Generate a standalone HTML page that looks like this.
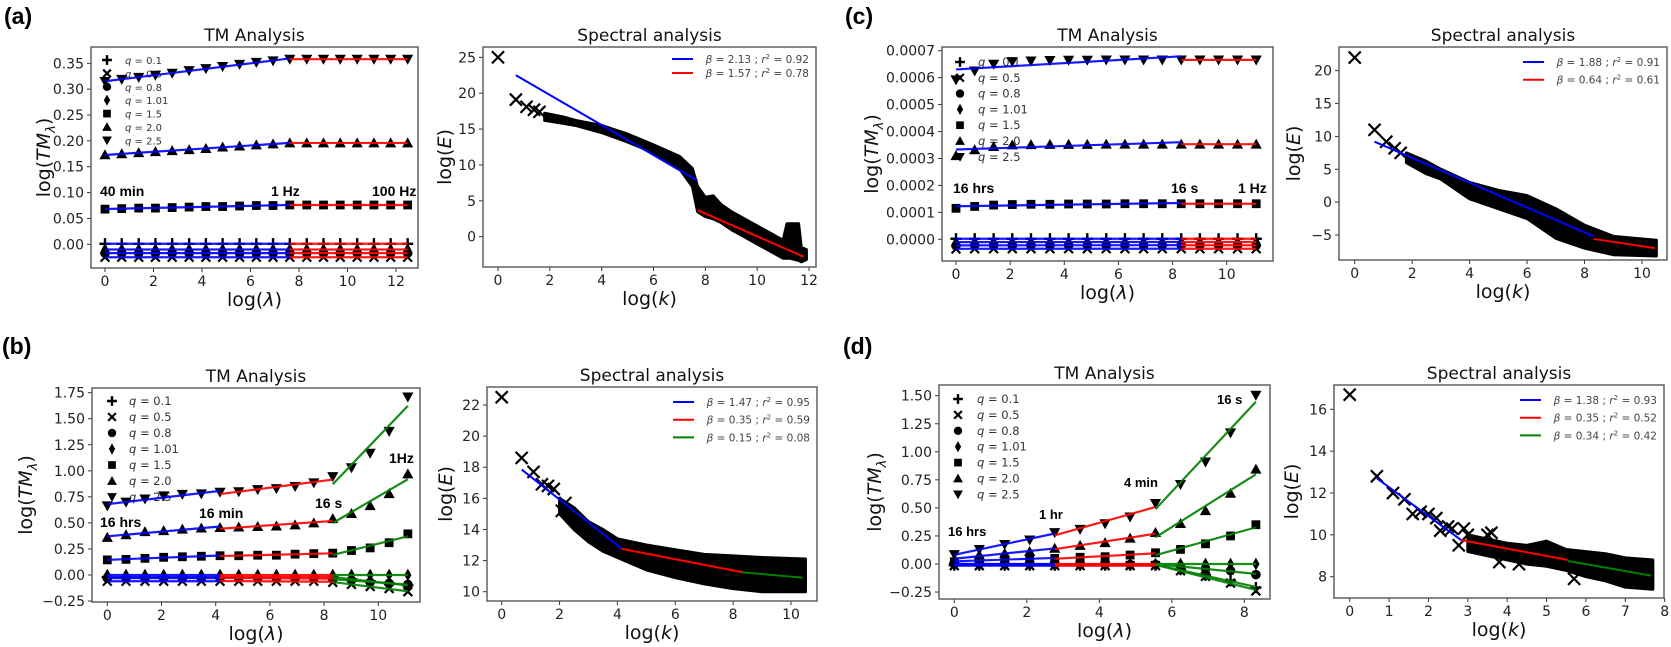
<!DOCTYPE html>
<html><head><meta charset="utf-8"><title>TM and Spectral analysis</title>
<style>
html,body{margin:0;padding:0;background:#fff;}
svg{display:block;}
text{font-family:"DejaVu Sans","Liberation Sans",sans-serif;}
</style></head>
<body>
<svg id="fig" width="1671" height="647" viewBox="0 0 1671 647" xmlns="http://www.w3.org/2000/svg">
<rect x="0" y="0" width="1671" height="647" fill="#fff"/>
</svg>
<script>
// ---------- shared ----------
const qLabels = ['0.1','0.5','0.8','1.01','1.5','2.0','2.5'];
const markerShapes = ['plus','x','circle','diamond','square','triup','tridown'];

// ---------- panel (a) TM ----------
const aX = [0,0.69,1.39,2.08,2.77,3.47,4.16,4.85,5.55,6.24,6.93,7.62,8.32,9.01,9.70,10.40,11.09,11.78,12.48];
const aQ01 = [0.001,0.001,0.001,0.001,0.001,0.001,0.001,0.001,0.001,0.001,0.001,0.001,0.001,0.001,0.001,0.001,0.001,0.001,0.001];
const aQ05 = [-0.025,-0.025,-0.025,-0.025,-0.025,-0.025,-0.025,-0.025,-0.025,-0.025,-0.025,-0.025,-0.025,-0.025,-0.025,-0.025,-0.025,-0.025,-0.025];
const aQ08 = [-0.017,-0.017,-0.017,-0.017,-0.017,-0.017,-0.017,-0.017,-0.017,-0.017,-0.017,-0.017,-0.017,-0.017,-0.017,-0.017,-0.017,-0.017,-0.017];
const aQ101 = [-0.010,-0.010,-0.010,-0.010,-0.010,-0.010,-0.010,-0.010,-0.010,-0.010,-0.010,-0.010,-0.010,-0.010,-0.010,-0.010,-0.010,-0.010,-0.010];
const aQ15 = [0.068,0.069,0.070,0.070,0.071,0.072,0.073,0.073,0.074,0.075,0.075,0.076,0.076,0.076,0.076,0.076,0.076,0.076,0.076];
const aQ20 = [0.173,0.175,0.177,0.179,0.181,0.183,0.185,0.188,0.190,0.192,0.194,0.196,0.196,0.196,0.196,0.196,0.196,0.196,0.196];
const aQ25 = [0.315,0.319,0.323,0.327,0.331,0.336,0.340,0.344,0.348,0.352,0.355,0.358,0.358,0.358,0.358,0.358,0.358,0.358,0.358];
const aBreaks = [0,7.62,12.48];
const aYTicks = [0,0.05,0.10,0.15,0.20,0.25,0.30,0.35];
const aYTickLabels = ['0.00','0.05','0.10','0.15','0.20','0.25','0.30','0.35'];
const aXTicks = [0,2,4,6,8,10,12];

// ---------- panel (c) TM ----------
const cX = [0,0.69,1.39,2.08,2.77,3.47,4.16,4.85,5.55,6.24,6.93,7.62,8.32,9.01,9.70,10.40,11.09];
const cQ01 = [0.000002,0.000002,0.000002,0.000002,0.000002,0.000002,0.000002,0.000002,0.000002,0.000002,0.000002,0.000002,0.000002,0.000002,0.000002,0.000002,0.000002];
const cQ05 = [-0.000036,-0.000035,-0.000035,-0.000035,-0.000035,-0.000035,-0.000035,-0.000035,-0.000035,-0.000035,-0.000035,-0.000035,-0.000035,-0.000035,-0.000035,-0.000035,-0.000035];
const cQ08 = [-0.000024,-0.000022,-0.000022,-0.000022,-0.000022,-0.000022,-0.000022,-0.000022,-0.000022,-0.000022,-0.000022,-0.000022,-0.000022,-0.000022,-0.000022,-0.000022,-0.000022];
const cQ101 = [-0.000012,-0.000010,-0.000010,-0.000010,-0.000010,-0.000010,-0.000010,-0.000010,-0.000010,-0.000010,-0.000010,-0.000010,-0.000010,-0.000010,-0.000010,-0.000010,-0.000010];
const cQ15 = [0.000115,0.000122,0.000127,0.000129,0.000130,0.000130,0.000131,0.000131,0.000131,0.000132,0.000132,0.000132,0.000132,0.000132,0.000132,0.000132,0.000132];
const cQ20 = [0.000310,0.000332,0.000344,0.000350,0.000351,0.000352,0.000352,0.000352,0.000353,0.000353,0.000353,0.000353,0.000353,0.000353,0.000353,0.000353,0.000353];
const cQ25 = [0.000592,0.000625,0.000650,0.000660,0.000662,0.000664,0.000665,0.000665,0.000666,0.000666,0.000666,0.000666,0.000666,0.000666,0.000666,0.000666,0.000666];
const cBreaks = [0,8.32,11.09];
const cYTicks = [0,0.0001,0.0002,0.0003,0.0004,0.0005,0.0006,0.0007];
const cYTickLabels = ['0.0000','0.0001','0.0002','0.0003','0.0004','0.0005','0.0006','0.0007'];
const cXTicks = [0,2,4,6,8,10];

// ---------- panel (b) TM ----------
const bX = [0,0.69,1.39,2.08,2.77,3.47,4.16,4.85,5.55,6.24,6.93,7.62,8.32,9.01,9.70,10.40,11.09];
const bQ01 = [-0.02,-0.02,-0.02,-0.02,-0.02,-0.02,-0.02,-0.02,-0.02,-0.02,-0.02,-0.02,-0.02,-0.04,-0.06,-0.08,-0.10];
const bQ05 = [-0.06,-0.06,-0.06,-0.06,-0.06,-0.06,-0.06,-0.06,-0.06,-0.06,-0.06,-0.06,-0.07,-0.09,-0.11,-0.13,-0.16];
const bQ08 = [-0.03,-0.03,-0.03,-0.03,-0.03,-0.03,-0.03,-0.03,-0.03,-0.03,-0.03,-0.03,-0.04,-0.05,-0.07,-0.08,-0.09];
const bQ101 = [0.00,0.00,0.00,0.00,0.00,0.00,0.00,0.00,0.00,0.00,0.00,0.00,0.00,0.00,0.00,0.00,0.00];
const bQ15 = [0.145,0.15,0.16,0.17,0.175,0.18,0.185,0.185,0.19,0.19,0.20,0.205,0.21,0.235,0.26,0.31,0.395];
const bQ20 = [0.36,0.385,0.415,0.425,0.44,0.45,0.455,0.46,0.465,0.47,0.48,0.50,0.54,0.59,0.665,0.78,0.97];
const bQ25 = [0.665,0.70,0.73,0.76,0.775,0.78,0.795,0.80,0.82,0.83,0.85,0.885,0.945,1.03,1.17,1.38,1.71];
const bBreaks = [0,4.16,8.32,11.09];
const bYTicks = [-0.25,0,0.25,0.5,0.75,1.0,1.25,1.5,1.75];
const bYTickLabels = ['\u22120.25','0.00','0.25','0.50','0.75','1.00','1.25','1.50','1.75'];
const bXTicks = [0,2,4,6,8,10];

// ---------- panel (d) TM ----------
const dX = [0,0.69,1.39,2.08,2.77,3.47,4.16,4.85,5.55,6.24,6.93,7.62,8.32];
const dQ01 = [-0.01,-0.01,-0.01,-0.01,-0.01,-0.01,-0.01,-0.01,-0.01,-0.05,-0.10,-0.15,-0.21];
const dQ05 = [-0.015,-0.015,-0.015,-0.015,-0.015,-0.015,-0.015,-0.015,-0.015,-0.06,-0.11,-0.17,-0.24];
const dQ08 = [0.00,0.00,0.00,0.00,-0.005,-0.005,-0.005,-0.005,-0.005,-0.02,-0.04,-0.06,-0.095];
const dQ101 = [0.00,0.00,0.00,0.00,0.00,0.00,0.00,0.00,0.00,0.00,0.00,0.00,0.00];
const dQ15 = [0.02,0.035,0.04,0.05,0.05,0.06,0.065,0.08,0.10,0.13,0.18,0.25,0.35];
const dQ20 = [0.04,0.08,0.095,0.11,0.14,0.165,0.19,0.23,0.28,0.36,0.475,0.63,0.845];
const dQ25 = [0.085,0.13,0.175,0.215,0.28,0.31,0.36,0.42,0.54,0.71,0.91,1.17,1.505];
const dBreaks = [0,2.77,5.55,8.32];
const dYTicks = [-0.25,0,0.25,0.5,0.75,1.0,1.25,1.5];
const dYTickLabels = ['\u22120.25','0.00','0.25','0.50','0.75','1.00','1.25','1.50'];
const dXTicks = [0,2,4,6,8];

// ---------- spectral (a) ----------
const aSpPtsK = [0,0.69,1.1,1.39,1.6];
const aSpPtsE = [25,19.1,18.1,17.7,17.4];
const aSpBandK = [1.8,2.5,3,4,5,6,7,7.5,7.7,8,8.3,8.6,9,9.5,10,10.5,11,11.15,11.25,11.6,11.7,11.9];
const aSpBandHi = [17.2,16.7,16.2,15.5,14.3,12.8,11.2,9.5,7,5.5,5.7,4.5,3.5,2.5,1.5,0.5,-0.5,1.8,1.8,1.8,-1.5,-1.8];
const aSpBandLo = [16.2,15.8,15.5,14.5,13.2,11.7,9.5,7,3.5,2.8,2.5,2,1,0,-1,-2,-3,-3,-3,-3.3,-3.5,-3.2];
const aSpFitK0 = [0.69,7.7];
const aSpFitK1 = [7.7,11.8];
const aSpFitE0 = [22.5,3.7];
const aSpFitE1 = [7.8,-2.8];
const aSpLegend = ['2.13','0.92','1.57','0.78'];
const aSpYTicks = [0,5,10,15,20,25];
const aSpXTicks = [0,2,4,6,8,10,12];

// ---------- spectral (c) ----------
const cSpPtsK = [0,0.69,1.1,1.39,1.6];
const cSpPtsE = [22,11,9.2,8.2,7.5];
const cSpBandK = [1.8,2.5,3,4,5,6,7,8,9,10.5];
const cSpBandHi = [7.5,6.2,5,3,1.8,1,-1,-3.5,-5.2,-5.8];
const cSpBandLo = [6,4.3,3.5,0.5,-1,-2.5,-5.5,-7,-8,-8.2];
const cSpFitK0 = [0.69,8.32];
const cSpFitK1 = [8.32,10.45];
const cSpFitE0 = [9.2,-5.6];
const cSpFitE1 = [-5.2,-7.0];
const cSpLegend = ['1.88','0.91','0.64','0.61'];
const cSpYTicks = [-5,0,5,10,15,20];
const cSpXTicks = [0,2,4,6,8,10];

// ---------- spectral (b) ----------
const bSpPtsK = [0,0.69,1.1,1.39,1.6,1.8,2.08,2.2];
const bSpPtsE = [22.5,18.6,17.7,16.9,16.8,16.6,15.2,15.7];
const bSpBandK = [2,2.5,3,3.5,4,5,6,7,8,9,10.5];
const bSpBandHi = [16,15.4,14.5,14,13.4,13,12.7,12.4,12.3,12.2,12.1];
const bSpBandLo = [15,14,13.2,12.6,12.2,11.4,10.9,10.5,10.2,10.0,10.0];
const bSpFitK0 = [0.69,4.16,8.32];
const bSpFitK1 = [4.16,8.32,10.4];
const bSpFitE0 = [17.85,12.75,11.25];
const bSpFitE1 = [12.75,11.25,10.9];
const bSpLegend = ['1.47','0.95','0.35','0.59','0.15','0.08'];
const bSpYTicks = [10,12,14,16,18,20,22];
const bSpXTicks = [0,2,4,6,8,10];

// ---------- spectral (d) ----------
const dSpPtsK = [0,0.69,1.1,1.39,1.6,1.8,2.0,2.2,2.3,2.5,2.6,2.77,2.9,3.0,3.5,3.6,3.8,4.3,5.7];
const dSpPtsE = [16.7,12.8,12,11.7,11,11.1,11.0,10.8,10.2,10.4,10.3,9.5,10.3,10.0,10,10.1,8.7,8.6,7.9];
const dSpBandK = [3,3.5,4,4.5,5,5.5,6,6.5,7,7.7];
const dSpBandHi = [10,9.8,9.6,9.5,9.7,9.3,9.2,9.1,8.9,8.8];
const dSpBandLo = [9.2,9,8.8,8.6,8.5,8.3,8,7.8,7.5,7.4];
const dSpFitK0 = [0.69,2.83,5.55];
const dSpFitK1 = [2.83,5.55,7.65];
const dSpFitE0 = [12.7,9.75,8.75];
const dSpFitE1 = [9.75,8.8,8.05];
const dSpLegend = ['1.38','0.93','0.35','0.52','0.34','0.42'];
const dSpYTicks = [8,10,12,14,16];
const dSpXTicks = [0,1,2,3,4,5,6,7,8];

// ================= drawing =================
const NS = 'http://www.w3.org/2000/svg';
const fig = document.getElementById('fig');
function mk(parent, tag, attrs, txt) {
  const e = document.createElementNS(NS, tag);
  for (const k in attrs) e.setAttribute(k, attrs[k]);
  if (txt !== undefined) e.textContent = txt;
  parent.appendChild(e);
  return e;
}
const segColors = ['#0000ff', '#ff0000', '#008000'];

function axisFns(p) {
  const sx = v => p.xa[1] + (v - p.xa[0]) * (p.xa[3] - p.xa[1]) / (p.xa[2] - p.xa[0]);
  const sy = v => p.ya[1] + (v - p.ya[0]) * (p.ya[3] - p.ya[1]) / (p.ya[2] - p.ya[0]);
  return [sx, sy];
}

function drawFrame(g, p, sx, sy) {
  const [x0, y0, x1, y1] = p.box;
  // y ticks
  p.yticks.forEach((v, i) => {
    const y = sy(v);
    const t = mk(g, 'line', {x1: x0 - 4, x2: x0, y1: y, y2: y, stroke: '#333', 'stroke-width': 1});
    
    
    const l = mk(g, 'text', {x: x0 - 7, y: y + 5, 'text-anchor': 'end', 'font-size': 14, fill: '#222'}, p.ylabels[i]);
    
    
  });
  p.xticks.forEach(v => {
    const x = sx(v);
    const t = mk(g, 'line', {x1: x, x2: x, y1: y1, y2: y1 + 4, stroke: '#333', 'stroke-width': 1});
    
    
    const l = mk(g, 'text', {x: x, y: y1 + 18, 'text-anchor': 'middle', 'font-size': 14, fill: '#222'}, String(v));
    
    
  });
  // title
  const ti = mk(g, 'text', {x: (x0 + x1) / 2, y: y0 - 6, 'text-anchor': 'middle', 'font-size': 17, fill: '#111'}, p.title);
  
  
  // x label
  const xl = mk(g, 'text', {x: (x0 + x1) / 2, y: y1 + 38, 'text-anchor': 'middle', 'font-size': 19, fill: '#111'});
  
  
  mk(xl, 'tspan', {}, 'log(');
  mk(xl, 'tspan', {'font-style': 'italic'}, p.xvar);
  mk(xl, 'tspan', {}, ')');
  // y label
  const cy = (y0 + y1) / 2;
  const yl = mk(g, 'text', {x: p.ylx, y: cy, 'text-anchor': 'middle', 'font-size': 19, fill: '#111', transform: `rotate(-90 ${p.ylx} ${cy})`});
  
  
  if (p.kind === 'tm') {
    mk(yl, 'tspan', {}, 'log(');
    mk(yl, 'tspan', {'font-style': 'italic'}, 'TM');
    mk(yl, 'tspan', {'font-style': 'italic', 'font-size': 13, dy: 5}, 'λ');
    mk(yl, 'tspan', {dy: -5}, ')');
  } else {
    mk(yl, 'tspan', {}, 'log(');
    mk(yl, 'tspan', {'font-style': 'italic'}, 'E');
    mk(yl, 'tspan', {}, ')');
  }
}

function drawBox(g, p) {
  const [x0, y0, x1, y1] = p.box;
  const r = mk(g, 'rect', {x: x0, y: y0, width: x1 - x0, height: y1 - y0, fill: 'none', stroke: '#555', 'stroke-width': 1.4});
  
  
}

function marker(g, shape, x, y, s) {
  let e;
  if (shape === 'plus') e = mk(g, 'path', {d: `M${x-s*0.7},${y}H${x+s*0.7}M${x},${y-s*0.7}V${y+s*0.7}`, stroke: '#000', 'stroke-width': 2.4, fill: 'none'});
  else if (shape === 'x') e = mk(g, 'path', {d: `M${x-s*0.55},${y-s*0.55}L${x+s*0.55},${y+s*0.55}M${x-s*0.55},${y+s*0.55}L${x+s*0.55},${y-s*0.55}`, stroke: '#000', 'stroke-width': 2.2, fill: 'none'});
  else if (shape === 'circle') e = mk(g, 'circle', {cx: x, cy: y, r: s * 0.6, fill: '#000'});
  else if (shape === 'diamond') e = mk(g, 'path', {d: `M${x},${y-s*0.8}L${x+s*0.45},${y}L${x},${y+s*0.8}L${x-s*0.45},${y}Z`, fill: '#000'});
  else if (shape === 'square') e = mk(g, 'rect', {x: x - s * 0.55, y: y - s * 0.55, width: s * 1.1, height: s * 1.1, fill: '#000'});
  else if (shape === 'triup') e = mk(g, 'path', {d: `M${x},${y-s*0.7}L${x+s*0.7},${y+s*0.55}L${x-s*0.7},${y+s*0.55}Z`, fill: '#000'});
  else e = mk(g, 'path', {d: `M${x},${y+s*0.7}L${x+s*0.7},${y-s*0.55}L${x-s*0.7},${y-s*0.55}Z`, fill: '#000'});
  return e;
}

function fitSeg(xs, ys, a, b) {
  let n = 0, mx = 0, my = 0;
  for (let i = 0; i < xs.length; i++) if (xs[i] >= a - 1e-6 && xs[i] <= b + 1e-6) { n++; mx += xs[i]; my += ys[i]; }
  mx /= n; my /= n;
  let sxy = 0, sxx = 0;
  for (let i = 0; i < xs.length; i++) if (xs[i] >= a - 1e-6 && xs[i] <= b + 1e-6) { sxy += (xs[i] - mx) * (ys[i] - my); sxx += (xs[i] - mx) ** 2; }
  const m = sxx ? sxy / sxx : 0;
  return [my + m * (a - mx), my + m * (b - mx)];
}

function drawTM(p) {
  const g = mk(fig, 'g', {});
  
  
  const [sx, sy] = axisFns(p);
  drawFrame(g, p, sx, sy);
  const [x0, y0] = p.box;
  // legend (behind data)
  qLabels.forEach((q, i) => {
    const ly = y0 + p.leg[0] + i * p.leg[1];
    const m = marker(g, markerShapes[i], x0 + p.leg[2], ly, 7);
    
    
    const t = mk(g, 'text', {x: x0 + p.leg[3], y: ly + 4, 'font-size': p.leg[4], fill: '#333', 'xml:space': 'preserve'});
    
    
    mk(t, 'tspan', {'font-style': 'italic'}, 'q');
    mk(t, 'tspan', {}, '  =  ' + q);
  });
  // markers
  p.series.forEach((ys, si) => {
    ys.forEach((v, i) => {
      const m = marker(g, markerShapes[si], sx(p.x[i]), sy(v), 8);
      
      
    });
  });
  // fit lines
  p.series.forEach((ys, si) => {
    for (let s = 0; s < p.breaks.length - 1; s++) {
      const a = p.breaks[s], b = p.breaks[s + 1];
      const [ya, yb] = fitSeg(p.x, ys, a, b);
      const l = mk(g, 'line', {x1: sx(a), y1: sy(ya), x2: sx(b), y2: sy(yb), stroke: segColors[s], 'stroke-width': 2.2, opacity: 0.9});
      
      
    }
  });
  // annotations
  p.annots.forEach(a => {
    const t = mk(g, 'text', {x: a[0], y: a[1], 'font-size': p.annSize, 'font-weight': 'bold', fill: '#000', style: 'font-family:"Liberation Sans",sans-serif'}, a[2]);
    
    
  });
  drawBox(g, p);
}

function drawSP(p) {
  const g = mk(fig, 'g', {});
  
  
  const [sx, sy] = axisFns(p);
  drawFrame(g, p, sx, sy);
  const [x0, y0, x1, y1] = p.box;
  // dense band
  let d = '';
  p.bandK.forEach((k, i) => { d += (i ? 'L' : 'M') + sx(k) + ',' + sy(p.bandHi[i]); });
  for (let i = p.bandK.length - 1; i >= 0; i--) d += 'L' + sx(p.bandK[i]) + ',' + sy(p.bandLo[i]);
  d += 'Z';
  const band = mk(g, 'path', {d: d, fill: '#000', stroke: '#000', 'stroke-width': 3, 'stroke-linejoin': 'round'});
  
  
  p.ptsK.forEach((k, i) => {
    const m = marker(g, 'x', sx(k), sy(p.ptsE[i]), 11);
    
    
  });
  p.fitK0.forEach((k, i) => {
    const l = mk(g, 'line', {x1: sx(k), y1: sy(p.fitE0[i]), x2: sx(p.fitK1[i]), y2: sy(p.fitE1[i]), stroke: segColors[i], 'stroke-width': 2});
    
    
  });
  // legend
  const nEnt = p.fitK0.length;
  for (let i = 0; i < nEnt; i++) {
    const ly = y0 + p.leg[0] + i * p.leg[1];
    const l = mk(g, 'line', {x1: x1 - 144, x2: x1 - 123, y1: ly, y2: ly, stroke: segColors[i], 'stroke-width': 2});
    
    
    const t = mk(g, 'text', {x: x1 - 7, y: ly + 4, 'text-anchor': 'end', 'font-size': 10.5, fill: '#444', 'xml:space': 'preserve'});
    
    
    mk(t, 'tspan', {'font-style': 'italic'}, 'β');
    mk(t, 'tspan', {}, ' = ' + p.legend[2 * i] + ' ; ');
    mk(t, 'tspan', {'font-style': 'italic'}, 'r');
    mk(t, 'tspan', {'font-size': 7, dy: -4}, '2');
    mk(t, 'tspan', {dy: 4}, ' = ' + p.legend[2 * i + 1]);
  }
  drawBox(g, p);
}

function panelLabel(x, y, s) {
  const t = mk(fig, 'text', {x: x, y: y, 'font-size': 23, 'font-weight': 'bold', fill: '#000', style: 'font-family:"Liberation Sans",sans-serif'}, s);
  
  
}

const ticks2 = v => v.map(t => (t < 0 ? '\u2212' : '') + Math.abs(t));

drawTM({name: 'panel-a-tm', kind: 'tm', title: 'TM Analysis', xvar: 'λ', box: [91, 47, 418, 268], xa: [0, 105, 12, 396], ya: [0, 244.3, 0.35, 63.3],
  x: aX, series: [aQ01, aQ05, aQ08, aQ101, aQ15, aQ20, aQ25], breaks: aBreaks,
  yticks: aYTicks, ylabels: aYTickLabels, xticks: aXTicks, ylx: 50,
  leg: [13, 13.4, 16, 34, 10], annSize: 14,
  annots: [[100, 196, '40 min'], [271, 196, '1 Hz'], [372, 196, '100 Hz']]});
drawSP({name: 'panel-a-spectral', title: 'Spectral analysis', xvar: 'k', box: [483, 47, 816, 267], xa: [0, 498, 12, 809], ya: [0, 236.7, 25, 57.3],
  ptsK: aSpPtsK, ptsE: aSpPtsE, bandK: aSpBandK, bandHi: aSpBandHi, bandLo: aSpBandLo,
  fitK0: aSpFitK0, fitK1: aSpFitK1, fitE0: aSpFitE0, fitE1: aSpFitE1, legend: aSpLegend,
  yticks: aSpYTicks, ylabels: ticks2(aSpYTicks), xticks: aSpXTicks, ylx: 451, leg: [12, 14]});
drawTM({name: 'panel-c-tm', kind: 'tm', title: 'TM Analysis', xvar: 'λ', box: [942, 47, 1273, 261], xa: [0, 956, 10, 1226.7], ya: [0, 239.3, 0.0007, 50.7],
  x: cX, series: [cQ01, cQ05, cQ08, cQ101, cQ15, cQ20, cQ25], breaks: cBreaks,
  yticks: cYTicks, ylabels: cYTickLabels, xticks: cXTicks, ylx: 878,
  leg: [15, 15.8, 18, 36, 11.5], annSize: 14,
  annots: [[953, 193, '16 hrs'], [1171, 193, '16 s'], [1238, 193, '1 Hz']]});
drawSP({name: 'panel-c-spectral', title: 'Spectral analysis', xvar: 'k', box: [1339, 47, 1667, 260], xa: [0, 1354.7, 10, 1642], ya: [-5, 235, 20, 70.7],
  ptsK: cSpPtsK, ptsE: cSpPtsE, bandK: cSpBandK, bandHi: cSpBandHi, bandLo: cSpBandLo,
  fitK0: cSpFitK0, fitK1: cSpFitK1, fitE0: cSpFitE0, fitE1: cSpFitE1, legend: cSpLegend,
  yticks: cSpYTicks, ylabels: ticks2(cSpYTicks), xticks: cSpXTicks, ylx: 1300, leg: [15, 17.7]});
drawTM({name: 'panel-b-tm', kind: 'tm', title: 'TM Analysis', xvar: 'λ', box: [92, 388, 420, 602], xa: [0, 107.3, 10, 378.3], ya: [0, 575, 1.75, 392.7],
  x: bX, series: [bQ01, bQ05, bQ08, bQ101, bQ15, bQ20, bQ25], breaks: bBreaks,
  yticks: bYTicks, ylabels: bYTickLabels, xticks: bXTicks, ylx: 32,
  leg: [13, 16, 20, 37, 11.5], annSize: 14,
  annots: [[100, 527, '16 hrs'], [199, 518, '16 min'], [315, 508, '16 s'], [389, 463, '1Hz']]});
drawSP({name: 'panel-b-spectral', title: 'Spectral analysis', xvar: 'k', box: [487, 387, 817, 601], xa: [0, 501.7, 10, 791], ya: [10, 591.7, 22, 405],
  ptsK: bSpPtsK, ptsE: bSpPtsE, bandK: bSpBandK, bandHi: bSpBandHi, bandLo: bSpBandLo,
  fitK0: bSpFitK0, fitK1: bSpFitK1, fitE0: bSpFitE0, fitE1: bSpFitE1, legend: bSpLegend,
  yticks: bSpYTicks, ylabels: ticks2(bSpYTicks), xticks: bSpXTicks, ylx: 452, leg: [15, 17.7]});
drawTM({name: 'panel-d-tm', kind: 'tm', title: 'TM Analysis', xvar: 'λ', box: [939, 385, 1270, 599], xa: [0, 954.3, 8, 1244.3], ya: [0, 564, 1.5, 395.7],
  x: dX, series: [dQ01, dQ05, dQ08, dQ101, dQ15, dQ20, dQ25], breaks: dBreaks,
  yticks: dYTicks, ylabels: dYTickLabels, xticks: dXTicks, ylx: 881,
  leg: [14, 15.9, 19, 38, 11.5], annSize: 13,
  annots: [[948, 536, '16 hrs'], [1039, 519, '1 hr'], [1124, 487, '4 min'], [1217, 404, '16 s']]});
drawSP({name: 'panel-d-spectral', title: 'Spectral analysis', xvar: 'k', box: [1334, 385, 1664, 598], xa: [0, 1349.7, 7, 1625.3], ya: [8, 576.7, 16, 409.3],
  ptsK: dSpPtsK, ptsE: dSpPtsE, bandK: dSpBandK, bandHi: dSpBandHi, bandLo: dSpBandLo,
  fitK0: dSpFitK0, fitK1: dSpFitK1, fitE0: dSpFitE0, fitE1: dSpFitE1, legend: dSpLegend,
  yticks: dSpYTicks, ylabels: ticks2(dSpYTicks), xticks: dSpXTicks, ylx: 1298, leg: [15, 17.7]});

panelLabel(4, 24, '(a)');
panelLabel(845, 24, '(c)');
panelLabel(2, 354, '(b)');
panelLabel(843, 354, '(d)');
</script>
</body></html>
